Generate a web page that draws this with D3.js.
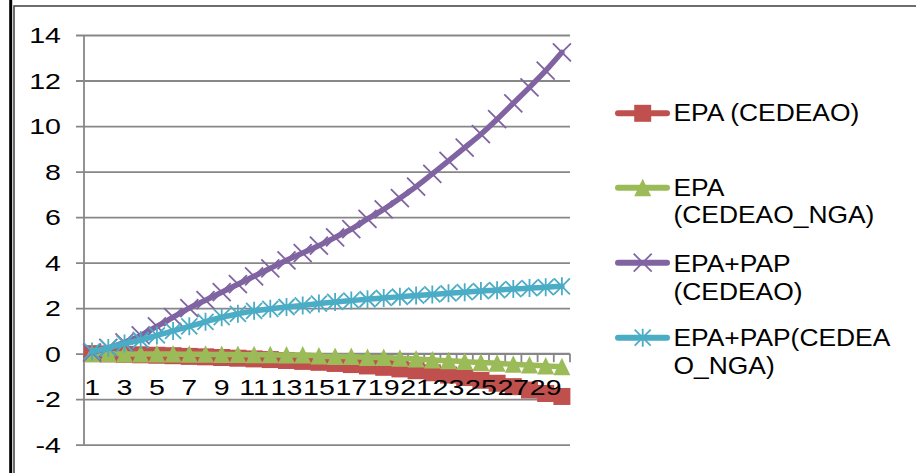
<!DOCTYPE html>
<html><head><meta charset="utf-8">
<script src="https://cdn.jsdelivr.net/npm/d3@7"></script>
<style>html,body{margin:0;padding:0;background:#fff;} svg{display:block;}</style>
</head><body>
<svg id="chart" width="916" height="473"></svg>
<script>
const categories = d3.range(1, 31).map(String);
const xTickLabels = ["1","3","5","7","9","11","13","15","17","19","21","23","25","27","29"];
const yTicks = [-4,-2,0,2,4,6,8,10,12,14];
const seriesNames = ["EPA (CEDEAO)", "EPA (CEDEAO_NGA)", "EPA+PAP (CEDEAO)", "EPA+PAP(CEDEAO_NGA)"];
const legendLines = [["EPA (CEDEAO)"], ["EPA", "(CEDEAO_NGA)"], ["EPA+PAP", "(CEDEAO)"], ["EPA+PAP(CEDEA", "O_NGA)"]];
const epaCedeao = [0,-0.01,-0.03,-0.05,-0.07,-0.09,-0.12,-0.14,-0.17,-0.2,-0.23,-0.26,-0.3,-0.34,-0.38,-0.43,-0.48,-0.54,-0.6,-0.67,-0.75,-0.84,-0.94,-1.05,-1.17,-1.3,-1.45,-1.6,-1.75,-1.88];
const epaCedeaoNga = [0,0,-0.01,-0.01,-0.02,-0.02,-0.03,-0.03,-0.04,-0.04,-0.05,-0.05,-0.06,-0.06,-0.1,-0.13,-0.13,-0.17,-0.17,-0.2,-0.23,-0.28,-0.31,-0.35,-0.39,-0.42,-0.47,-0.5,-0.54,-0.57];
const epaPapCedeao = [0.05,0.25,0.5,0.8,1.2,1.6,2.0,2.35,2.7,3.05,3.4,3.75,4.1,4.42,4.75,5.11,5.47,5.92,6.34,6.83,7.34,7.9,8.47,9.05,9.64,10.3,11.0,11.7,12.43,13.24];
const epaPapCedeaoNga = [0.1,0.25,0.45,0.6,0.8,1.0,1.2,1.4,1.6,1.75,1.88,1.97,2.05,2.12,2.2,2.27,2.33,2.39,2.45,2.5,2.55,2.6,2.65,2.7,2.75,2.79,2.84,2.88,2.92,2.96];
const colors = ["#C0504D", "#9BBB59", "#8064A2", "#4BACC6"];
const markers = ["square", "triangle", "x", "star"];
const allSeries = [epaCedeao, epaCedeaoNga, epaPapCedeao, epaPapCedeaoNga];

const svg = d3.select("#chart");
const plotLeft = 84, plotRight = 570, plotTop = 35, plotBottom = 444.7;
const x = d3.scaleBand().domain(categories).range([plotLeft, plotRight]).padding(0);
const y = d3.scaleLinear().domain([-4, 14]).range([plotBottom, plotTop]);
const cx = c => x(c) + x.bandwidth() / 2;
const FONT = "Liberation Sans, Arial, sans-serif";

// borders
svg.append("rect").attr("x", 14).attr("y", 6).attr("width", 920).attr("height", 480)
  .attr("fill", "none").attr("stroke", "#4a4a4a").attr("stroke-width", 1.6);
svg.append("line").attr("x1", 10.7).attr("x2", 10.7).attr("y1", 0).attr("y2", 473)
  .attr("stroke", "#000").attr("stroke-width", 3);

const gridColor = "#878787";
// gridlines + y axis
const yAxis = d3.axisLeft(y).tickValues(yTicks).tickSize(-(plotRight - plotLeft)).tickFormat("");
svg.append("g").attr("transform", `translate(${plotLeft},0)`).call(yAxis)
  .call(g => { g.select(".domain").remove(); g.selectAll("line").attr("stroke", gridColor).attr("stroke-width", 1.8).attr("x1", -8); });
svg.append("line").attr("x1", plotLeft).attr("x2", plotLeft).attr("y1", plotTop).attr("y2", plotBottom)
  .attr("stroke", gridColor).attr("stroke-width", 1.8);

// y tick labels (stretched horizontally)
svg.append("g").selectAll("text").data(yTicks).join("text")
  .attr("transform", d => `translate(61,${y(d) + 8}) scale(1.27,1)`)
  .attr("text-anchor", "end").attr("font-family", FONT)
  .attr("font-size", 22.5).attr("fill", "#000").text(d => d);

// x axis at 0
const bounds = categories.map(c => x(c)).concat([plotRight]);
svg.append("line").attr("x1", plotLeft).attr("x2", plotRight).attr("y1", y(0)).attr("y2", y(0))
  .attr("stroke", gridColor).attr("stroke-width", 1.8);
svg.append("g").selectAll("line").data(bounds).join("line")
  .attr("x1", d => d).attr("x2", d => d).attr("y1", y(0)).attr("y2", y(0) + 8.5)
  .attr("stroke", gridColor).attr("stroke-width", 1.8);

function drawMarker(g, type, px, py, color) {
  if (type === "square") {
    g.append("rect").attr("x", px - 8.5).attr("y", py - 8.5).attr("width", 17).attr("height", 17).attr("fill", color);
  } else if (type === "triangle") {
    g.append("path").attr("d", `M${px},${py - 9}L${px + 8.5},${py + 8.5}L${px - 8.5},${py + 8.5}Z`).attr("fill", color);
  } else if (type === "x") {
    const s = 9;
    g.append("path").attr("d", `M${px - s},${py - s}L${px + s},${py + s}M${px - s},${py + s}L${px + s},${py - s}`)
      .attr("stroke", color).attr("stroke-width", 1.8).attr("fill", "none");
  } else if (type === "star") {
    const s = 8;
    g.append("path").attr("d", `M${px - s},${py - s}L${px + s},${py + s}M${px - s},${py + s}L${px + s},${py - s}M${px},${py - 9}L${px},${py + 9}`)
      .attr("stroke", color).attr("stroke-width", 1.8).attr("fill", "none");
  }
}

const line = d3.line().x((d, i) => cx(categories[i])).y(d => y(d)).curve(d3.curveMonotoneX);
allSeries.forEach((vals, si) => {
  const g = svg.append("g");
  g.append("path").attr("d", line(vals)).attr("fill", "none").attr("stroke", colors[si])
    .attr("stroke-width", 5.5).attr("stroke-linejoin", "round").attr("stroke-linecap", "round");
  vals.forEach((v, i) => drawMarker(g, markers[si], cx(categories[i]), y(v), colors[si]));
});

// x tick labels drawn over the series
svg.append("g").selectAll("text").data(xTickLabels).join("text")
  .attr("transform", d => `translate(${cx(d)},395) scale(1.27,1)`)
  .attr("text-anchor", "middle").attr("font-family", FONT)
  .attr("font-size", 22.5).attr("fill", "#000").text(d => d);

// legend
const legendY = [113.3, 187.7, 262.7, 337.7];
const baselines = [[121], [196, 223], [272, 299.5], [346, 373.5]];
legendLines.forEach((lines, si) => {
  const g = svg.append("g");
  g.append("line").attr("x1", 618).attr("x2", 667).attr("y1", legendY[si]).attr("y2", legendY[si])
    .attr("stroke", colors[si]).attr("stroke-width", 6).attr("stroke-linecap", "round");
  drawMarker(g, markers[si], 642.7, legendY[si], colors[si]);
  lines.forEach((t, li) => {
    g.append("text").attr("transform", `translate(673.5,${baselines[si][li]}) scale(1.1,1)`)
      .attr("font-family", FONT).attr("font-size", 24)
      .attr("fill", "#000").text(t);
  });
});
</script>
</body></html>
